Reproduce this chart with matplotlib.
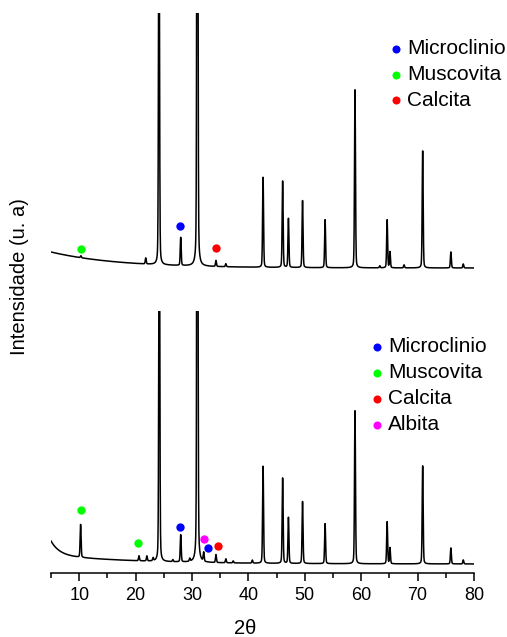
import numpy as np
import matplotlib
matplotlib.use('Agg')
import matplotlib.pyplot as plt
from matplotlib.lines import Line2D
from matplotlib.ticker import MultipleLocator

plt.rcParams['font.family'] = ['Liberation Sans', 'DejaVu Sans']

pico_sup = [10.3, 21.8, 24.15, 28.0, 30.95, 34.25, 36.0, 42.6, 46.07, 47.1,
            49.6, 53.6, 58.9, 63.3, 64.6, 65.1, 67.6, 70.9, 75.9, 78.1]
int_sup = [2, 6, 420, 28, 900, 6, 3, 90, 87, 49,
           67, 48, 178, 2, 48, 16, 3, 117, 16, 4]

pico_inf = [10.25, 20.6, 22.0, 23.1, 24.2, 26.6, 28.0, 29.6, 30.95, 32.07,
            34.25, 36.0, 37.3, 40.7, 42.6, 46.07, 47.1, 49.6, 53.6, 58.9,
            64.6, 65.1, 70.9, 75.9, 78.1]
int_inf = [33, 5, 5, 3, 420, 2, 27, 3, 900, 9,
           8, 4, 2, 3, 97, 86, 46, 62, 40, 153,
           42, 16, 98, 16, 4]

# fundo (amplitude, decaimento)
fundo_sup = [(16, 12.0)]
fundo_inf = [(14, 1.5), (9, 15.0)]

# marcadores das fases (2theta, altura)
fases = ['Microclinio', 'Muscovita', 'Calcita', 'Albita']
cores = {'Microclinio': '#0000ff', 'Muscovita': '#00ff00',
         'Calcita': '#ff0000', 'Albita': '#ff00ff'}
marc_sup = [('Muscovita', 10.32, 18.7), ('Microclinio', 27.93, 41.7),
            ('Calcita', 34.2, 20.3)]
marc_inf = [('Muscovita', 10.37, 54), ('Muscovita', 20.48, 20.7),
            ('Microclinio', 27.93, 37.3), ('Albita', 32.18, 25),
            ('Microclinio', 32.78, 16.3), ('Calcita', 34.56, 18)]

tt = np.arange(5, 80.001, 0.02)


def perfil(picos, alturas, fundo):
    y = np.zeros_like(tt)
    for a, k in fundo:
        y += a * np.exp(-(tt - 5) / k)
    w = 0.1
    for p, h in zip(picos, alturas):
        g = np.exp(-np.log(2) * ((tt - p) / w) ** 2)
        l = 1 / (1 + ((tt - p) / w) ** 2)
        y += h * (0.75 * g + 0.25 * l)
    return y


W, H = 507, 637
fig = plt.figure(figsize=(W / 100, H / 100), dpi=100)
ax_sup = fig.add_axes([51 / W, 1 - 290 / H, 423 / W, 277 / H])
ax_inf = fig.add_axes([51 / W, 1 - 573 / H, 423 / W, 262 / H])

ax_sup.plot(tt, perfil(pico_sup, int_sup, fundo_sup), color='black', lw=1.1)
ax_inf.plot(tt, perfil(pico_inf, int_inf, fundo_inf), color='black', lw=1.1)
ax_sup.set_ylim(-22, 255)
ax_inf.set_ylim(-9, 253)

for ax, marcs in [(ax_sup, marc_sup), (ax_inf, marc_inf)]:
    ax.set_xlim(5, 80)
    for f, x, y in marcs:
        ax.plot(x, y, 'o', color=cores[f], ms=6, mec='none', clip_on=False)
    for s in ['top', 'right', 'left']:
        ax.spines[s].set_visible(False)
    ax.set_yticks([])
    ax.patch.set_alpha(0)

ax_sup.spines['bottom'].set_visible(False)
ax_sup.set_xticks([])
ax_inf.xaxis.set_major_locator(MultipleLocator(10))
ax_inf.xaxis.set_minor_locator(MultipleLocator(5))
ax_inf.tick_params(axis='x', which='major', length=6, width=1.1, labelsize=13, pad=4)
ax_inf.tick_params(axis='x', which='minor', length=3.5, width=1.1)
ax_inf.spines['bottom'].set_linewidth(1.1)

# legendas
def legenda(x0, y0, dy, nomes):
    for i, n in enumerate(nomes):
        y = 1 - (y0 + i * dy) / H
        fig.add_artist(Line2D([x0 / W], [y], marker='o', ms=5.8, color=cores[n],
                              mec='none', transform=fig.transFigure))
        fig.text((x0 + 11) / W, y, n, fontsize=15, va='center')

legenda(396, 49, 25.5, fases[:3])
legenda(377, 347, 26, fases)

fig.text(20 / W, 1 - 277 / H, 'Intensidade (u. a)', rotation=90, fontsize=14.5,
         ha='center', va='center')
fig.text(245 / W, 1 - 628 / H, '2\u03b8', fontsize=14.5, ha='center', va='center')

fig.savefig('out.png', dpi=100)
